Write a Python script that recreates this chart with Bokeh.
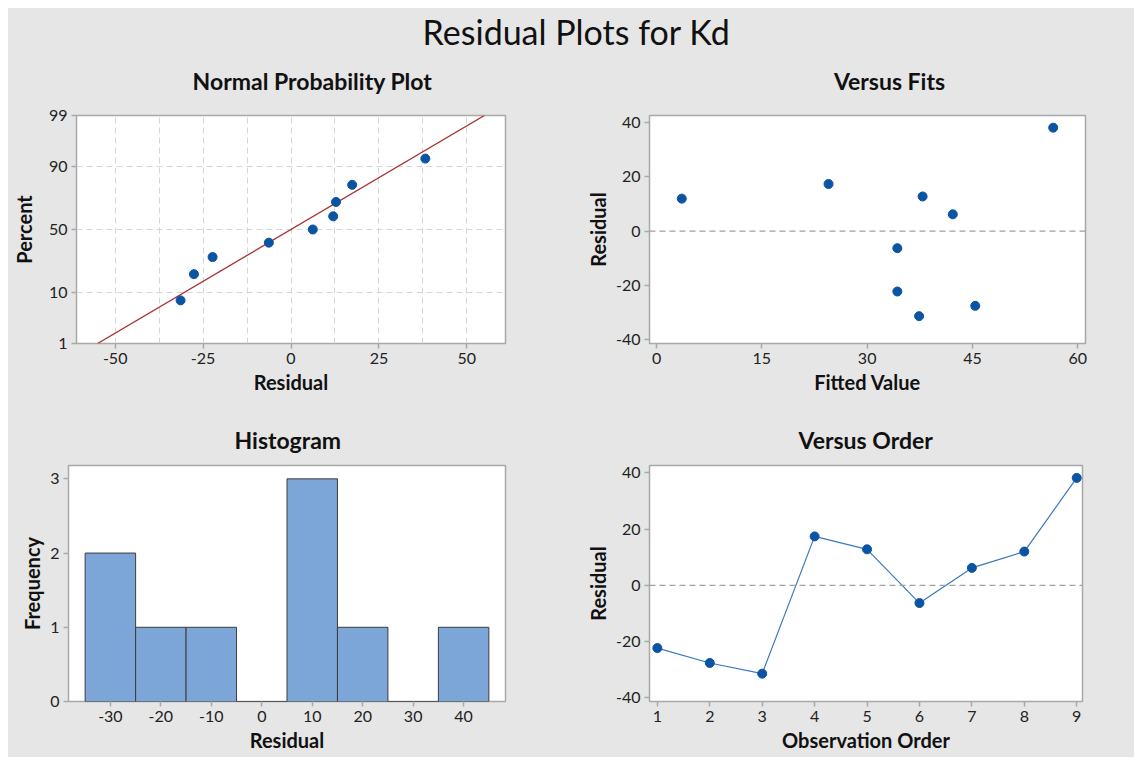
from statistics import NormalDist
from bokeh.plotting import figure
from bokeh.layouts import column, row
from bokeh.models import FixedTicker, Span, Range1d, ColumnDataSource
from bokeh.core.properties import value
from bokeh.embed import file_html
from bokeh.resources import INLINE

# ---------------- data ----------------
main_title = "Residual Plots for Kd"
panel_titles = ["Normal Probability Plot", "Versus Fits", "Histogram", "Versus Order"]

obs_order = [1, 2, 3, 4, 5, 6, 7, 8, 9]
residuals = [-22.3, -27.6, -31.4, 17.4, 12.8, -6.3, 6.2, 12.0, 38.2]
fitted_values = [34.3, 45.4, 37.4, 24.5, 37.9, 34.3, 42.2, 3.6, 56.5]

npp_residual = [-31.4, -27.6, -22.3, -6.3, 6.2, 12.0, 12.8, 17.4, 38.2]
npp_percent = [7.4, 18.1, 28.7, 39.4, 50.0, 60.6, 71.3, 81.9, 92.6]
fit_line_residual = [-55.0, 55.0]
fit_line_percent = [1.0, 99.0]
npp_percent_ticks = [1, 10, 50, 90, 99]
npp_x_ticks = [-50, -25, 0, 25, 50]
npp_x_grid = [-50, -37.5, -25, -12.5, 0, 12.5, 25, 37.5, 50]
fits_x_ticks = [0, 15, 30, 45, 60]
resid_ticks = [-40, -20, 0, 20, 40]
hist_x_ticks = [-30, -20, -10, 0, 10, 20, 30, 40]
hist_y_ticks = [0, 1, 2, 3]

hist_left = [-35, -25, -15, -5, 5, 15, 25, 35]
hist_right = [-25, -15, -5, 5, 15, 25, 35, 45]
hist_counts = [2, 1, 1, 0, 3, 1, 0, 1]

# ---------------- style ----------------
BG = "#e6e6e6"
FONT = "Lato"
DOT = "#0b53a3"
FRAME = "#a9a9a9"
TXT = "#222222"


def probit(p):
    return round(NormalDist().inv_cdf(p / 100.0), 6)


def plain(ticks):
    return {t: str(t) for t in ticks}


def base(width, height, bl, br, bt, bb, xr, yr, title=None, title_off=0, standoff=0):
    p = figure(width=width, height=height, x_range=Range1d(*xr), y_range=Range1d(*yr),
               output_backend="svg", toolbar_location=None,
               min_border_left=bl, min_border_right=br, min_border_top=bt, min_border_bottom=bb,
               background_fill_color="white", border_fill_color=BG,
               outline_line_color=FRAME, outline_line_width=1.5)
    if title is None:
        p.title = None
    else:
        p.title.text = title
        p.title.align = "left"
        p.title.offset = title_off
        p.title.text_font = FONT
        p.title.text_font_size = "23px"
        p.title.text_font_style = "bold"
        p.title.text_color = "#111111"
        p.title.standoff = standoff
    p.grid.visible = False
    for ax in (p.xaxis, p.yaxis):
        ax.axis_line_color = None
        ax.major_tick_line_color = FRAME
        ax.major_tick_line_width = 1.5
        ax.major_tick_out = 5
        ax.major_tick_in = 0
        ax.minor_tick_line_color = None
        ax.major_label_text_font = FONT
        ax.major_label_text_font_size = "16px"
        ax.major_label_text_color = TXT
        ax.axis_label_text_font = FONT
        ax.axis_label_text_font_size = "20px"
        ax.axis_label_text_font_style = "bold"
        ax.axis_label_text_color = "#111111"
    p.xaxis.major_label_standoff = 4
    p.xaxis.axis_label_standoff = 3
    p.yaxis.major_label_standoff = 4
    p.yaxis.axis_label_standoff = 10
    return p


# ---- title strip: main title and the two upper panel titles ----
pt = figure(width=1126, height=92, x_range=Range1d(0, 1126), y_range=Range1d(0, 92),
            output_backend="svg", toolbar_location=None, min_border=0,
            background_fill_color=BG, border_fill_color=BG, outline_line_color=None)
pt.title = None
pt.axis.visible = False
pt.grid.visible = False
pt.text(x=[568], y=[69], text=[main_title], text_font=value(FONT), text_font_size="34px",
        text_color="#111111", text_align="center", text_baseline="middle")
pt.text(x=[304, 881], y=[20, 20], text=panel_titles[:2], text_font=value(FONT), text_font_size="23px",
        text_font_style="bold", text_color="#111111", text_align="center", text_baseline="middle")

# ---- Normal probability plot ----
p1 = base(563, 310, 59, 66, 15, 67, (-61, 61), (probit(1), probit(99)))
p1.xaxis.ticker = FixedTicker(ticks=npp_x_ticks)
p1.xaxis.major_label_overrides = plain(npp_x_ticks)
yt = [probit(v) for v in npp_percent_ticks]
p1.yaxis.ticker = FixedTicker(ticks=yt)
p1.yaxis.major_label_overrides = {t: str(v) for t, v in zip(yt, npp_percent_ticks)}
p1.xgrid.visible = True
p1.ygrid.visible = True
p1.xgrid.ticker = FixedTicker(ticks=npp_x_grid)
p1.ygrid.ticker = FixedTicker(ticks=[probit(v) for v in [10, 50, 90]])
p1.grid.grid_line_color = "#d6d6d6"
p1.grid.grid_line_dash = "6 4"
p1.grid.grid_line_width = 1
p1.xaxis.axis_label = "Residual"
p1.yaxis.axis_label = "Percent"
p1.line(x=fit_line_residual, y=[probit(v) for v in fit_line_percent], line_color="#a8312c", line_width=1.3)
p1.scatter(x=npp_residual, y=[probit(v) for v in npp_percent], size=9, color=DOT)

# ---- Versus fits ----
p2 = base(563, 310, 78, 49, 15, 67, (-1, 61.1), (-41.5, 42.7))
p2.xaxis.ticker = FixedTicker(ticks=fits_x_ticks)
p2.yaxis.ticker = FixedTicker(ticks=resid_ticks)
p2.yaxis.major_label_overrides = plain(resid_ticks)
p2.xaxis.axis_label = "Fitted Value"
p2.yaxis.axis_label = "Residual"
p2.yaxis.axis_label_standoff = 3
p2.add_layout(Span(location=0, dimension="width", line_color="#a0a0a0", line_dash="6 4", line_width=1.3))
p2.scatter(x=fitted_values, y=residuals, size=9, color=DOT)

# ---- Histogram ----
p3 = base(563, 347, 60, 66, 55, 56, (-38.3, 48.3), (0, 3.18), panel_titles[2], 166, 24)
p3.xaxis.ticker = FixedTicker(ticks=hist_x_ticks)
p3.xaxis.major_label_overrides = plain(hist_x_ticks)
p3.yaxis.ticker = FixedTicker(ticks=hist_y_ticks)
p3.xaxis.axis_label = "Residual"
p3.yaxis.axis_label = "Frequency"
p3.yaxis.axis_label_standoff = 3
hsrc = ColumnDataSource(dict(left=hist_left, right=hist_right, top=hist_counts, bottom=[0] * len(hist_counts)))
p3.quad(left="left", right="right", top="top", bottom="bottom", source=hsrc,
        fill_color="#7da6d8", line_color="#3c3c3c", line_width=1)

# ---- Versus order ----
p4 = base(563, 347, 78, 52, 55, 56, (0.85, 9.11), (-41.3, 42.6), panel_titles[3], 149, 24)
p4.xaxis.ticker = FixedTicker(ticks=obs_order)
p4.yaxis.ticker = FixedTicker(ticks=resid_ticks)
p4.yaxis.major_label_overrides = plain(resid_ticks)
p4.xaxis.axis_label = "Observation Order"
p4.yaxis.axis_label = "Residual"
p4.yaxis.axis_label_standoff = 3
p4.add_layout(Span(location=0, dimension="width", line_color="#a0a0a0", line_dash="6 4", line_width=1.3))
p4.line(x=obs_order, y=residuals, line_color="#3b78c0", line_width=1.2)
p4.scatter(x=obs_order, y=residuals, size=9, color=DOT)

layout = column(pt, row(p1, p2, spacing=0, styles={"background-color": BG}),
                row(p3, p4, spacing=0, styles={"background-color": BG}),
                margin=(8, 0, 0, 8), spacing=0, styles={"background-color": BG})

open("out.html", "w").write(file_html(layout, INLINE))
